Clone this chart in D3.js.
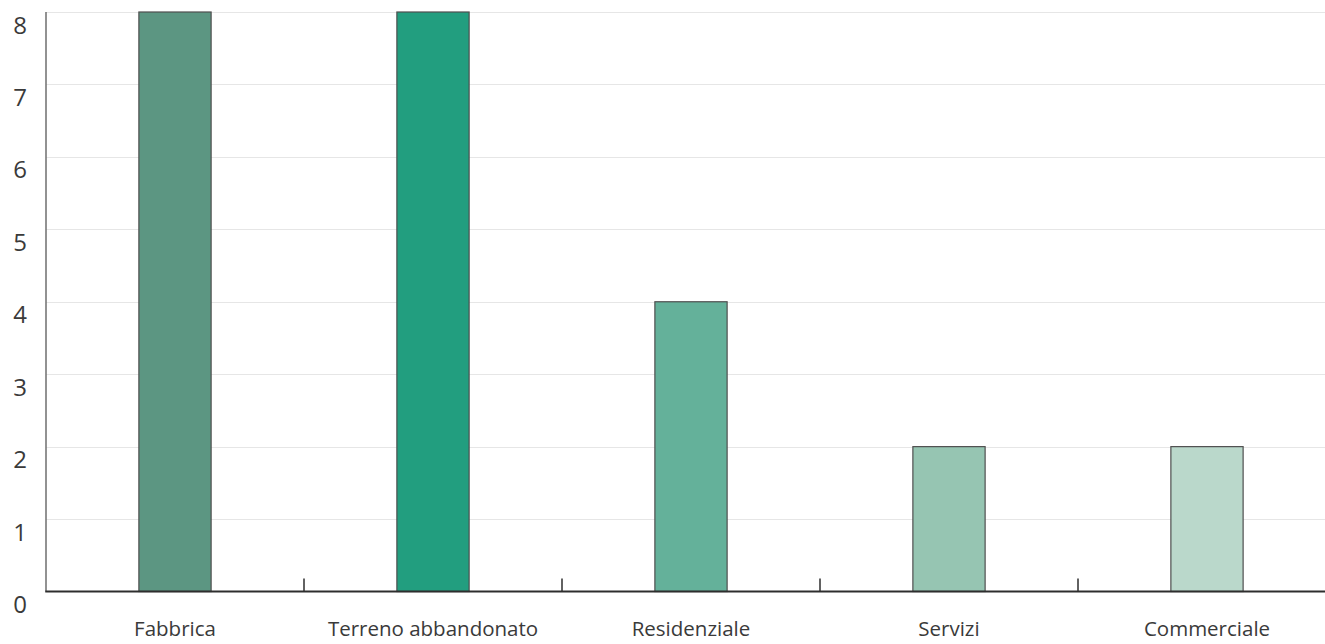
<!DOCTYPE html>
<html>
<head>
<meta charset="utf-8">
<script src="https://cdn.jsdelivr.net/npm/d3@7"></script>
<style>
  html, body { margin: 0; padding: 0; background: #fff; }
  svg { display: block; }
  text { font-family: "Open Sans", "Noto Sans", sans-serif; fill: #3a3a3a; }
</style>
</head>
<body>
<svg id="chart" width="1325" height="644"></svg>
<script>
const categories = ["Fabbrica", "Terreno abbandonato", "Residenziale", "Servizi", "Commerciale"];
const values = [8, 8, 4, 2, 2];
const colors = ["#5c9682", "#229e7f", "#64b19a", "#96c5b2", "#bad8cb"];
const yTicks = [0, 1, 2, 3, 4, 5, 6, 7, 8];

(function () {
const W = 1325, H = 644;
const mLeft = 46, mRight = 1336, mTop = 12, mBase = 591.5;

const svg = d3.select("#chart");
const x = d3.scaleBand().domain(categories).range([mLeft, mRight]).padding(0);
const y = d3.scaleLinear().domain([0, 8]).range([mBase, mTop]);

// gridlines
svg.append("g").selectAll("line").data(yTicks.filter(d => d > 0)).join("line")
  .attr("x1", mLeft).attr("x2", W)
  .attr("y1", d => Math.round(y(d)) + 0.5).attr("y2", d => Math.round(y(d)) + 0.5)
  .attr("stroke", "#e6e6e6").attr("stroke-width", 1);

// y labels
svg.append("g").selectAll("text").data(yTicks).join("text")
  .attr("x", 20).attr("y", d => y(d) + 12)
  .attr("text-anchor", "middle").attr("dominant-baseline", "central")
  .style("font-size", "24px")
  .text(d => d);

// bars
const bw = x.bandwidth() * 0.28;
svg.append("g").selectAll("rect").data(categories).join("rect")
  .attr("x", (d) => x(d) + x.bandwidth() / 2 - bw / 2)
  .attr("width", bw)
  .attr("y", (d, i) => y(values[i]))
  .attr("height", (d, i) => y(0) - y(values[i]))
  .attr("fill", (d, i) => colors[i])
  .attr("stroke", "#4f4f4f").attr("stroke-width", 1.2);

// left axis line
svg.append("line")
  .attr("x1", mLeft).attr("x2", mLeft).attr("y1", mTop).attr("y2", mBase)
  .attr("stroke", "#6e6e6e").attr("stroke-width", 1.5);

// bottom axis line
svg.append("line")
  .attr("x1", mLeft - 0.75).attr("x2", W).attr("y1", mBase).attr("y2", mBase)
  .attr("stroke", "#2e2e2e").attr("stroke-width", 2);

// separator ticks
svg.append("g").selectAll("line").data(categories.slice(1)).join("line")
  .attr("x1", d => x(d)).attr("x2", d => x(d))
  .attr("y1", mBase).attr("y2", mBase - 13)
  .attr("stroke", "#2e2e2e").attr("stroke-width", 1.5);

// category labels
svg.append("g").selectAll("text").data(categories).join("text")
  .attr("x", d => x(d) + x.bandwidth() / 2)
  .attr("y", 636)
  .attr("text-anchor", "middle")
  .style("font-size", "20.5px")
  .text(d => d);
})();
</script>
</body>
</html>
